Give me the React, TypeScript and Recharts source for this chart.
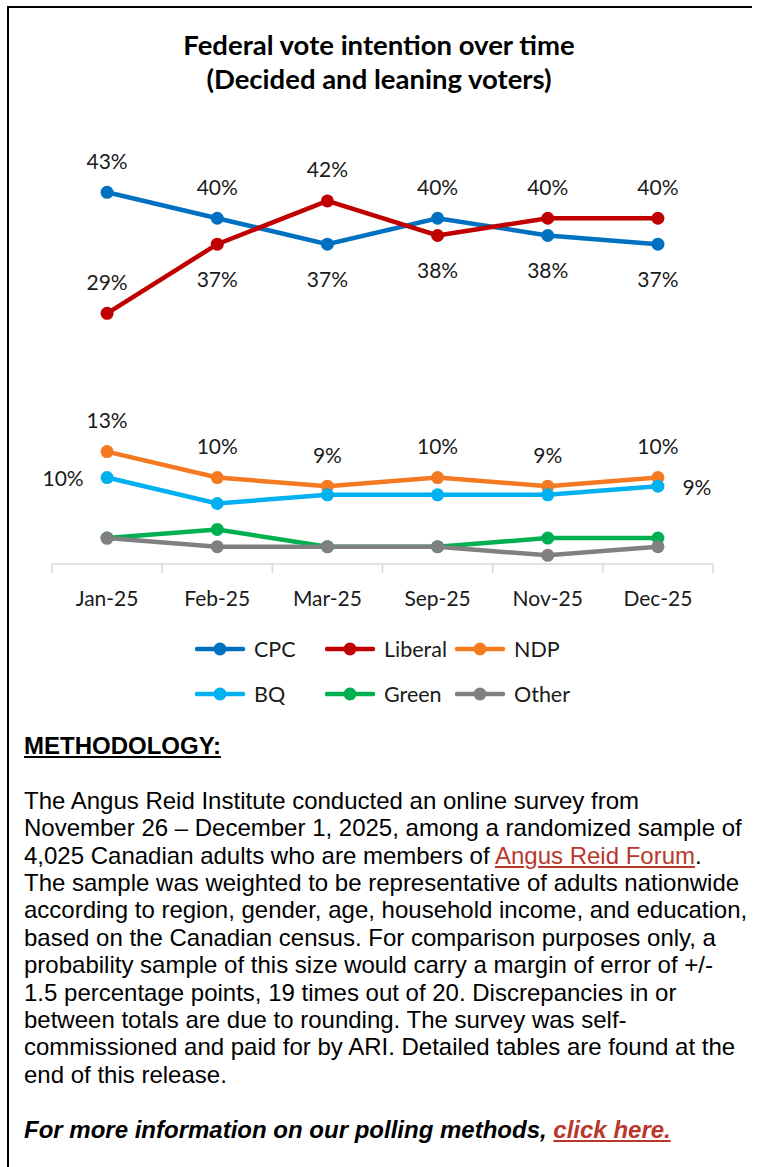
import { LineChart, Line, XAxis, YAxis, LabelList } from "recharts";

const MONTHS = ["Jan-25", "Feb-25", "Mar-25", "Sep-25", "Nov-25", "Dec-25"];
const CPC = [43, 40, 37, 40, 38, 37];
const LIBERAL = [29, 37, 42, 38, 40, 40];
const NDP = [13, 10, 9, 10, 9, 10];
const BQ = [10, 7, 8, 8, 8, 9];
const GREEN = [3, 4, 2, 2, 3, 3];
const OTHER = [3, 2, 2, 2, 1, 2];

// where each data label sits relative to its point (null = no label)
const CPC_LABELS = ["top", "top", "bottom", "top", "bottom", "bottom"];
const LIBERAL_LABELS = ["top", "bottom", "top", "bottom", "top", "top"];
const NDP_LABELS = ["top", "top", "top", "top", "top", "top"];
const BQ_LABELS = ["left", null, null, null, null, "right"];

const SERIES = [
  { key: "CPC", values: CPC, color: "#0070C0", labels: CPC_LABELS },
  { key: "Liberal", values: LIBERAL, color: "#C00000", labels: LIBERAL_LABELS },
  { key: "NDP", values: NDP, color: "#F47A22", labels: NDP_LABELS },
  { key: "BQ", values: BQ, color: "#00B0F0", labels: BQ_LABELS },
  { key: "Green", values: GREEN, color: "#00B050", labels: null },
  { key: "Other", values: OTHER, color: "#808080", labels: null },
];

const data = MONTHS.map((month, i) => {
  const row: Record<string, string | number> = { month };
  SERIES.forEach((s) => (row[s.key] = s.values[i]));
  return row;
});

const W = 758;
const MARGIN = { top: 175, right: 45, left: 52, bottom: 16 };
const HALF_STEP = (W - MARGIN.left - MARGIN.right) / 12;
const CHART_FONT = "Lato, 'Open Sans', sans-serif";

function makeLabel(placement: (string | null)[]) {
  return (props: any) => {
    const x = props.x ?? props.viewBox?.x;
    const y = props.y ?? props.viewBox?.y;
    const p = placement[props.index];
    if (!p || x == null || y == null) return null;
    let dx = 0;
    let dy = 0;
    if (p === "top") dy = -32;
    if (p === "bottom") dy = 34;
    if (p === "left") dx = -44;
    if (p === "right") dx = 39;
    return (
      <text
        x={x + dx}
        y={y + dy}
        textAnchor="middle"
        dominantBaseline="central"
        fontSize={21}
        fontFamily={CHART_FONT}
        fill="#1a1a1a"
      >
        {props.value}%
      </text>
    );
  };
}

function MonthTick(props: any) {
  const { x, y, payload, index } = props;
  return (
    <g>
      <line x1={x - HALF_STEP} x2={x - HALF_STEP} y1={y} y2={y + 9} stroke="#D9D9D9" strokeWidth={1.5} />
      {index === MONTHS.length - 1 && (
        <line x1={x + HALF_STEP} x2={x + HALF_STEP} y1={y} y2={y + 9} stroke="#D9D9D9" strokeWidth={1.5} />
      )}
      <text
        x={x}
        y={y + 33}
        textAnchor="middle"
        dominantBaseline="central"
        fontSize={21}
        fontFamily={CHART_FONT}
        fill="#1a1a1a"
      >
        {payload.value}
      </text>
    </g>
  );
}

function LegendItem({ name, color }: { name: string; color: string }) {
  return (
    <div style={{ display: "flex", alignItems: "center", width: 130 }}>
      <svg width={52} height={16} style={{ marginRight: 7 }}>
        <line x1={2} x2={48} y1={8} y2={8} stroke={color} strokeWidth={4.5} strokeLinecap="round" />
        <circle cx={25} cy={8} r={6.5} fill={color} />
      </svg>
      <span>{name}</span>
    </div>
  );
}

const LINES = [
  "The Angus Reid Institute conducted an online survey from",
  "November 26 \u2013 December 1, 2025, among a randomized sample of",
  null,
  "The sample was weighted to be representative of adults nationwide",
  "according to region, gender, age, household income, and education,",
  "based on the Canadian census. For comparison purposes only, a",
  "probability sample of this size would carry a margin of error of +/-",
  "1.5 percentage points, 19 times out of 20. Discrepancies in or",
  "between totals are due to rounding. The survey was self-",
  "commissioned and paid for by ARI. Detailed tables are found at the",
  "end of this release.",
];

const LINK = "#B8382C";

export default function App() {
  return (
    <div
      style={{
        position: "absolute",
        left: 0,
        top: 0,
        width: W,
        height: 1167,
        background: "#fff",
        overflow: "hidden",
      }}
    >
      <div
        style={{
          position: "absolute",
          left: 7,
          top: 6,
          width: 743,
          height: 1170,
          borderTop: "2px solid #000",
          borderLeft: "2px solid #000",
        }}
      />
      <div
        style={{
          position: "absolute",
          top: 28,
          left: 0,
          width: W,
          textAlign: "center",
          fontFamily: CHART_FONT,
          fontWeight: 700,
          fontSize: 27.5,
          lineHeight: "34px",
          color: "#000",
        }}
      >
        Federal vote intention over time
        <br />
        (Decided and leaning voters)
      </div>

      <div style={{ position: "absolute", top: 0, left: 0 }}>
        <LineChart width={W} height={620} data={data} margin={MARGIN}>
          <XAxis
            dataKey="month"
            interval={0}
            padding={{ left: HALF_STEP, right: HALF_STEP }}
            axisLine={{ stroke: "#D9D9D9", strokeWidth: 1.5 }}
            tickLine={false}
            tickSize={0}
            tickMargin={0}
            height={40}
            tick={<MonthTick />}
          />
          <YAxis hide domain={[0, 45]} />
          {SERIES.map((s) => (
            <Line
              key={s.key}
              dataKey={s.key}
              stroke={s.color}
              strokeWidth={4.5}
              dot={{ r: 6.5, fill: s.color, stroke: s.color, strokeWidth: 0 }}
              activeDot={false}
              isAnimationActive={false}
            >
              {s.labels && <LabelList dataKey={s.key} content={makeLabel(s.labels)} />}
            </Line>
          ))}
        </LineChart>
      </div>

      <div
        style={{
          position: "absolute",
          top: 636,
          left: 195,
          fontFamily: CHART_FONT,
          fontSize: 21.5,
          color: "#1a1a1a",
        }}
      >
        {[0, 3].map((start) => (
          <div key={start} style={{ display: "flex", height: 45, alignItems: "flex-start" }}>
            {SERIES.slice(start, start + 3).map((s) => (
              <LegendItem key={s.key} name={s.key} color={s.color} />
            ))}
          </div>
        ))}
      </div>

      <div
        style={{
          position: "absolute",
          top: 732,
          left: 24,
          fontFamily: "'Liberation Sans', Arial, sans-serif",
          fontSize: 24,
          lineHeight: "27.4px",
          color: "#000",
          whiteSpace: "nowrap",
        }}
      >
        <div style={{ fontWeight: 700, textDecoration: "underline" }}>METHODOLOGY:</div>
        <div>&nbsp;</div>
        {LINES.map((line, i) =>
          line === null ? (
            <div key={i}>
              4,025 Canadian adults who are members of{" "}
              <span style={{ color: LINK, textDecoration: "underline" }}>Angus Reid Forum</span>.
            </div>
          ) : (
            <div key={i}>{line}</div>
          )
        )}
        <div>&nbsp;</div>
        <div style={{ fontWeight: 700, fontStyle: "italic" }}>
          For more information on our polling methods,{" "}
          <span style={{ color: LINK, textDecoration: "underline" }}>click here.</span>
        </div>
      </div>
    </div>
  );
}
